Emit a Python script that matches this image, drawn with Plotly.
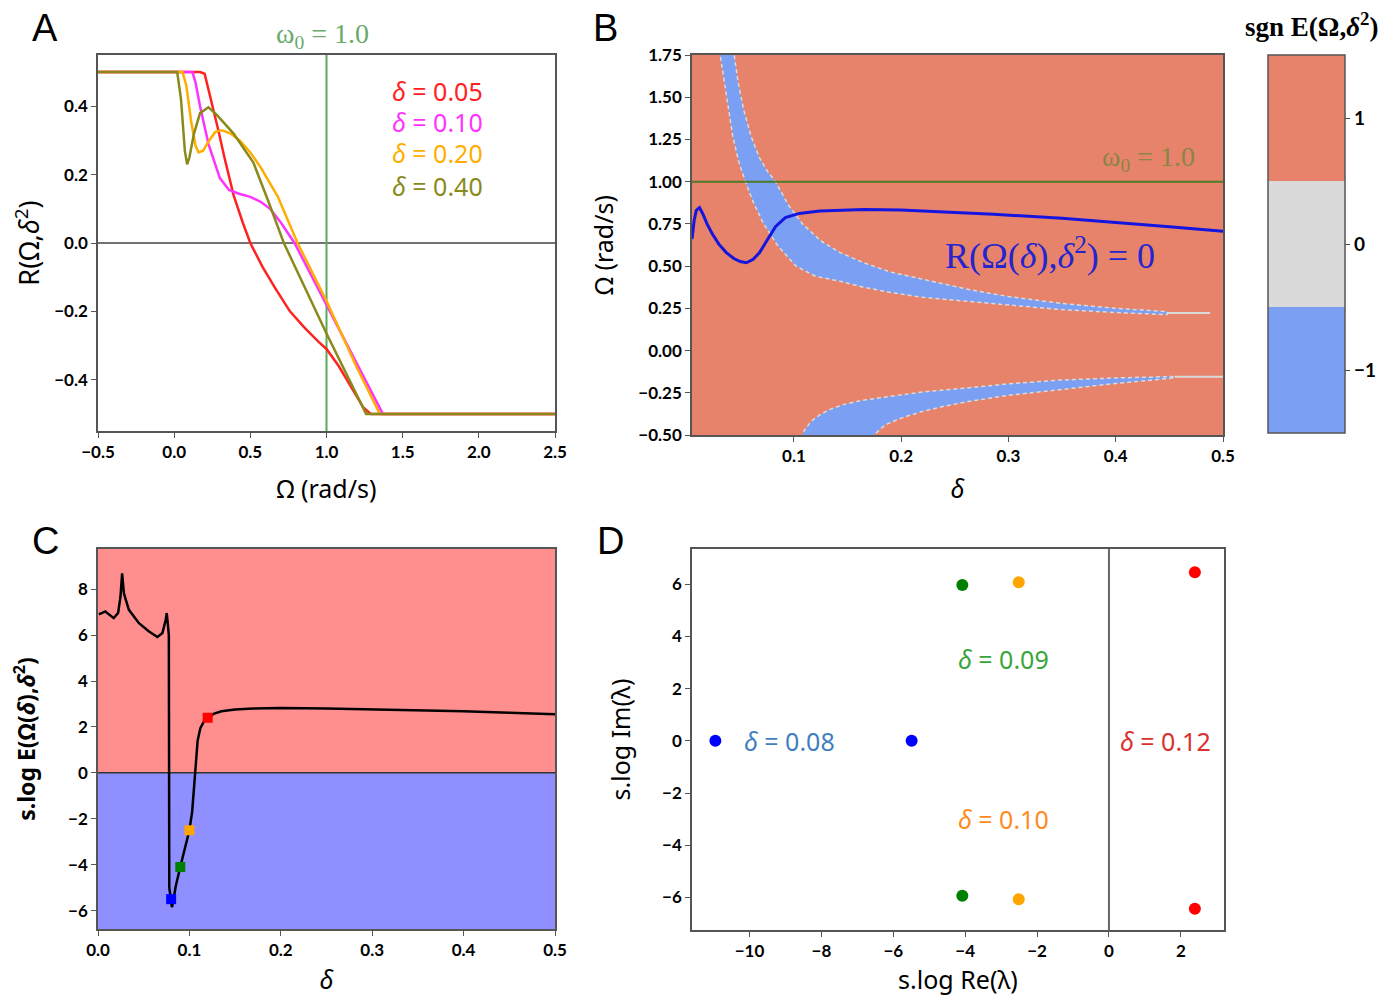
import plotly.graph_objects as go

# page has an 8px body margin, so the figure is a bit smaller than the window
OFF = 8
W, H = 1394 - 2 * OFF, 1004 - 2 * OFF

# ---------------- panel A : R(Omega, delta^2) ----------------
omega_a = {
    "0.05": [-0.5, 0.17, 0.2, 0.225, 0.255, 0.29, 0.33, 0.39, 0.45, 0.5, 0.58, 0.66, 0.76, 0.86, 0.95, 1.0,
             1.08, 1.16, 1.24, 1.29, 2.5],
    "0.10": [-0.5, 0.12, 0.14, 0.17, 0.225, 0.30, 0.36, 0.42, 0.5, 0.57, 0.63, 0.70, 0.79, 1.0, 1.2, 1.37, 2.5],
    "0.20": [-0.5, 0.055, 0.08, 0.11, 0.14, 0.16, 0.19, 0.23, 0.27, 0.315, 0.37, 0.43, 0.5, 0.57, 0.68, 0.81,
             1.0, 1.2, 1.35, 2.5],
    "0.40": [-0.5, 0.02, 0.045, 0.07, 0.085, 0.10, 0.13, 0.17, 0.225, 0.28, 0.39, 0.52, 0.62, 0.72, 1.0, 1.26, 2.5],
}
r_a = {
    "0.05": [0.5, 0.5, 0.495, 0.45, 0.40, 0.33, 0.25, 0.14, 0.06, 0.0, -0.07, -0.13, -0.20, -0.25, -0.29, -0.31,
             -0.36, -0.42, -0.48, -0.5, -0.5],
    "0.10": [0.5, 0.5, 0.47, 0.40, 0.29, 0.19, 0.155, 0.145, 0.135, 0.12, 0.10, 0.06, 0.0, -0.18, -0.355, -0.5, -0.5],
    "0.20": [0.5, 0.5, 0.46, 0.36, 0.285, 0.265, 0.27, 0.30, 0.325, 0.33, 0.32, 0.30, 0.265, 0.22, 0.136, 0.0,
             -0.17, -0.365, -0.5, -0.5],
    "0.40": [0.5, 0.5, 0.42, 0.27, 0.23, 0.25, 0.32, 0.38, 0.397, 0.375, 0.32, 0.235, 0.12, 0.0, -0.265, -0.5, -0.5],
}
colors_a = {"0.05": "#ff2222", "0.10": "#ff33ff", "0.20": "#ffae00", "0.40": "#8a8a1c"}
label_y_a = {"0.05": 91, "0.10": 122, "0.20": 153, "0.40": 186}

# ---------------- panel B : sign map ----------------
heat_x = [0.005, 0.5]
heat_y = [-0.5, 1.75]
heat_z = [[1]]
sgn_levels = [-1, 0, 1]

up_in_d = [0.0305, 0.034, 0.038, 0.043, 0.0485, 0.0548, 0.062, 0.0718, 0.085, 0.102, 0.12, 0.143, 0.165,
           0.19, 0.22, 0.264, 0.30, 0.348, 0.40, 0.448]
up_in_w = [1.78, 1.63, 1.47, 1.27, 1.12, 1.00, 0.88, 0.75, 0.62, 0.50, 0.44, 0.41, 0.375, 0.344, 0.315,
           0.29, 0.268, 0.243, 0.225, 0.213]
up_out_d = [0.0436, 0.048, 0.053, 0.06, 0.068, 0.0755, 0.0828, 0.095, 0.108, 0.125, 0.143, 0.165, 0.19,
            0.22, 0.264, 0.30, 0.348, 0.40, 0.448]
up_out_w = [1.78, 1.59, 1.43, 1.27, 1.14, 1.06, 1.00, 0.86, 0.75, 0.65, 0.58, 0.52, 0.465, 0.42, 0.36,
            0.32, 0.28, 0.25, 0.231]
lo_top_d = [0.106, 0.11, 0.116, 0.123, 0.133, 0.146, 0.163, 0.19, 0.22, 0.264, 0.30, 0.348, 0.40, 0.453]
lo_top_w = [-0.52, -0.47, -0.42, -0.385, -0.35, -0.32, -0.295, -0.27, -0.245, -0.22, -0.197, -0.175,
            -0.162, -0.154]
lo_bot_d = [0.171, 0.185, 0.20, 0.22, 0.24, 0.264, 0.30, 0.348, 0.40, 0.455]
lo_bot_w = [-0.52, -0.44, -0.40, -0.36, -0.33, -0.30, -0.265, -0.23, -0.195, -0.162]
tail_up_d = [0.448, 0.488]
tail_up_w = [0.222, 0.222]
tail_lo_d = [0.455, 0.5]
tail_lo_w = [-0.155, -0.155]

zero_d = [0.005, 0.007, 0.009, 0.012, 0.015, 0.019, 0.024, 0.03, 0.037, 0.044, 0.05, 0.0557, 0.062, 0.068,
          0.0757, 0.083, 0.092, 0.105, 0.124, 0.165, 0.2, 0.25, 0.286, 0.35, 0.407, 0.45, 0.5]
zero_w = [0.66, 0.77, 0.83, 0.846, 0.81, 0.75, 0.69, 0.63, 0.58, 0.545, 0.527, 0.52, 0.54, 0.58, 0.66,
          0.735, 0.787, 0.812, 0.826, 0.835, 0.832, 0.82, 0.807, 0.783, 0.757, 0.733, 0.706]

# ---------------- panel C : s.log E(Omega(delta), delta^2) ----------------
delta_c = [0.001, 0.008, 0.0172, 0.022, 0.0246, 0.0264, 0.0283, 0.0338, 0.0448, 0.0558, 0.065, 0.0705, 0.0741,
           0.0752, 0.0763, 0.0775, 0.078, 0.0795, 0.0808, 0.0818, 0.085, 0.09, 0.095, 0.1, 0.103, 0.105, 0.107,
           0.109, 0.112, 0.116, 0.12, 0.127, 0.135, 0.15, 0.17, 0.2, 0.25, 0.3, 0.35, 0.4, 0.45, 0.5]
slog_e = [6.9, 7.03, 6.74, 6.96, 7.68, 8.69, 7.82, 7.1, 6.52, 6.16, 5.92, 6.09, 6.67, 6.96, 6.52, 6.0, -5.0,
          -5.6, -5.85, -5.7, -4.95, -4.1, -3.35, -2.5, -1.7, -0.6, 0.5, 1.4, 1.95, 2.25, 2.4, 2.58, 2.68, 2.76,
          2.8, 2.82, 2.8, 2.77, 2.72, 2.68, 2.62, 2.55]
mark_d = [0.08, 0.09, 0.10, 0.12]
mark_e = [-5.5, -4.1, -2.5, 2.4]
mark_col = ["#0000ff", "#008000", "#ffa500", "#ff0000"]

# ---------------- panel D : eigenvalues ----------------
eig_re = {"0.08": [-10.95, -5.49], "0.09": [-4.08, -4.08], "0.10": [-2.51, -2.51], "0.12": [2.39, 2.39]}
eig_im = {"0.08": [0, 0], "0.09": [5.97, -5.94], "0.10": [6.08, -6.07], "0.12": [6.46, -6.44]}
eig_col = {"0.08": "#0000ff", "0.09": "#008000", "0.10": "#ffa500", "0.12": "#ff0000"}
eig_txt_col = {"0.08": "#3f7fc0", "0.09": "#3aa53a", "0.10": "#ff8a1f", "0.12": "#d93030"}
eig_txt_pos = {"0.08": (790, 741), "0.09": (1003, 659), "0.10": (1003, 819), "0.12": (1165, 741)}

SALMON = "#e8836b"
BLUEB = "#7b9ff2"
GRAYB = "#dadada"


def px(x):
    return (x - OFF) / W


def py(y):
    return 1 - (y - OFF) / H


fig = go.Figure()

for k in omega_a:
    fig.add_trace(go.Scatter(x=omega_a[k], y=r_a[k], mode="lines", line=dict(color=colors_a[k], width=2.5),
                             xaxis="x", yaxis="y", showlegend=False))

fig.add_trace(go.Heatmap(x=heat_x, y=heat_y, z=heat_z, zmin=-1.5, zmax=1.5, xaxis="x2", yaxis="y2",
                         hoverinfo="skip",
                         colorscale=[[0, BLUEB], [1 / 3, BLUEB], [1 / 3, GRAYB], [2 / 3, GRAYB],
                                     [2 / 3, SALMON], [1, SALMON]],
                         colorbar=dict(x=px(1268), xanchor="left", xref="paper", xpad=0, ypad=0,
                                       y=py(55), yanchor="top", yref="paper", len=378 / H, thickness=77,
                                       tickvals=sgn_levels, ticktext=["\u22121", "0", "1"], ticks="outside",
                                       ticklen=5, tickcolor="#444", outlinewidth=1.5, outlinecolor="#555",
                                       tickfont=dict(family="Lato", size=19, color="black", weight="bold"))))

band_line = dict(color=GRAYB, width=1.5, dash="4px,3px")
fig.add_trace(go.Scatter(x=up_in_d + up_out_d[::-1], y=up_in_w + up_out_w[::-1], mode="lines", fill="toself",
                         fillcolor=BLUEB, line=band_line, xaxis="x2", yaxis="y2", showlegend=False))
fig.add_trace(go.Scatter(x=lo_top_d + lo_bot_d[::-1], y=lo_top_w + lo_bot_w[::-1], mode="lines", fill="toself",
                         fillcolor=BLUEB, line=band_line, xaxis="x2", yaxis="y2", showlegend=False))
for td, tw in [(tail_up_d, tail_up_w), (tail_lo_d, tail_lo_w)]:
    fig.add_trace(go.Scatter(x=td, y=tw, mode="lines", line=dict(color=GRAYB, width=2), xaxis="x2", yaxis="y2",
                             showlegend=False))
fig.add_trace(go.Scatter(x=[0.005, 0.5], y=[1.0, 1.0], mode="lines", line=dict(color="#4d7a26", width=2),
                         xaxis="x2", yaxis="y2", showlegend=False))
fig.add_trace(go.Scatter(x=zero_d, y=zero_w, mode="lines", line=dict(color="#1515e0", width=3),
                         xaxis="x2", yaxis="y2", showlegend=False))

fig.add_trace(go.Scatter(x=delta_c, y=slog_e, mode="lines", line=dict(color="black", width=2.5),
                         xaxis="x3", yaxis="y3", showlegend=False))
fig.add_trace(go.Scatter(x=mark_d, y=mark_e, mode="markers",
                         marker=dict(symbol="square", size=10, color=mark_col),
                         xaxis="x3", yaxis="y3", showlegend=False))

for k in eig_re:
    fig.add_trace(go.Scatter(x=eig_re[k], y=eig_im[k], mode="markers", marker=dict(size=12, color=eig_col[k]),
                             xaxis="x4", yaxis="y4", showlegend=False))

tickfont = dict(family="Lato", size=17, color="black", weight="bold")
titlefont = dict(family="Noto Sans", size=25, color="black")


def ax(domain, rng, anchor, **kw):
    d = dict(domain=domain, range=rng, anchor=anchor, showline=True, mirror=True, linecolor="#555",
             linewidth=1.5, ticks="outside", ticklen=5, tickcolor="#555", showgrid=False, zeroline=False,
             tickfont=tickfont, title_font=titlefont, automargin=False)
    d.update(kw)
    return d


shapes = [
    dict(type="line", xref="x", yref="y", x0=-0.5, x1=2.5, y0=0, y1=0, line=dict(color="#444", width=1.5),
         layer="below"),
    dict(type="line", xref="x", yref="y", x0=1.0, x1=1.0, y0=-0.55, y1=0.55, line=dict(color="#5aa95a", width=2),
         layer="below"),
    dict(type="rect", xref="x3", yref="y3", x0=0, x1=0.5, y0=0, y1=9.75, fillcolor="#ff8f8f", line_width=0,
         layer="below"),
    dict(type="rect", xref="x3", yref="y3", x0=0, x1=0.5, y0=-6.8, y1=0, fillcolor="#8f8fff", line_width=0,
         layer="below"),
    dict(type="line", xref="x3", yref="y3", x0=0, x1=0.5, y0=0, y1=0, line=dict(color="#333", width=1.5),
         layer="below"),
    dict(type="line", xref="x4", yref="y4", x0=0, x1=0, y0=-7.25, y1=7.35, line=dict(color="#666", width=2),
         layer="below"),
]

ann = []


def note(x, y, text, size, color="black", family="Noto Sans", angle=0, **kw):
    ann.append(dict(x=px(x), y=py(y), xref="paper", yref="paper", text=text, showarrow=False, textangle=angle,
                    font=dict(family=family, size=size, color=color, **kw), xanchor="center", yanchor="middle"))


for letter, (lx, ly) in {"A": (45, 28), "B": (605, 28), "C": (45, 541), "D": (610, 541)}.items():
    note(lx, ly, letter, 38, family="Liberation Sans")
for k in omega_a:
    note(437, label_y_a[k], "<i>\u03b4</i> = " + k, 25, colors_a[k])
note(322, 35, "\u03c9<sub>0</sub> = 1.0", 28, "#6aaa6a", family="Liberation Serif")
note(1148, 158, "\u03c9<sub>0</sub> = 1.0", 28, "#8a8545", family="Liberation Serif")
note(1050, 253, "R(\u03a9(<i>\u03b4</i>),<i>\u03b4</i><sup>2</sup>) = 0", 36, "#2424d0", family="Liberation Serif")
note(1311, 25, "sgn E(\u03a9,<i>\u03b4</i><sup>2</sup>)", 27, family="Liberation Serif", weight="bold")
for k in eig_re:
    note(eig_txt_pos[k][0], eig_txt_pos[k][1], "<i>\u03b4</i> = " + k, 25, eig_txt_col[k])

fig.update_layout(
    width=W, height=H, margin=dict(l=0, r=0, t=0, b=0), paper_bgcolor="white", plot_bgcolor="white",
    showlegend=False, shapes=shapes, annotations=ann,
    xaxis=ax([px(98), px(555)], [-0.5, 2.5], "y", tickvals=[-0.5, 0, 0.5, 1, 1.5, 2, 2.5], tickformat=".1f",
             title=dict(text="\u03a9 (rad/s)", standoff=19)),
    yaxis=ax([py(431), py(55)], [-0.55, 0.55], "x", tickvals=[-0.4, -0.2, 0, 0.2, 0.4], tickformat=".1f",
             title=dict(text="R(\u03a9,<i>\u03b4</i><sup>2</sup>)", standoff=18,
                        font=dict(family="Noto Sans", size=27, color="black"))),
    xaxis2=ax([px(692), px(1223)], [0.005, 0.5], "y2", tickvals=[0.1, 0.2, 0.3, 0.4, 0.5], tickformat=".1f",
              title=dict(text="<i>\u03b4</i>", standoff=15)),
    yaxis2=ax([py(435), py(55)], [-0.5, 1.75], "x2", tickvals=[-0.5, -0.25, 0, 0.25, 0.5, 0.75, 1, 1.25, 1.5, 1.75],
              tickformat=".2f", title=dict(text="\u03a9 (rad/s)", standoff=18)),
    xaxis3=ax([px(98), px(555)], [0, 0.5], "y3", tickvals=[0, 0.1, 0.2, 0.3, 0.4, 0.5], tickformat=".1f",
              title=dict(text="<i>\u03b4</i>", standoff=22)),
    yaxis3=ax([py(929), py(549)], [-6.8, 9.75], "x3", tickvals=[-6, -4, -2, 0, 2, 4, 6, 8],
              title=dict(text="s.log E(\u03a9(<i>\u03b4</i>),<i>\u03b4</i><sup>2</sup>)", standoff=30,
                         font=dict(family="Noto Sans", size=23, color="black", weight="bold"))),
    xaxis4=ax([px(692), px(1224)], [-11.6, 3.2], "y4", tickvals=[-10, -8, -6, -4, -2, 0, 2],
              title=dict(text="s.log Re(\u03bb)", standoff=18)),
    yaxis4=ax([py(930), py(549)], [-7.25, 7.35], "x4", tickvals=[-6, -4, -2, 0, 2, 4, 6],
              title=dict(text="s.log Im(\u03bb)", standoff=24)),
)

fig.write_html("out.html")
